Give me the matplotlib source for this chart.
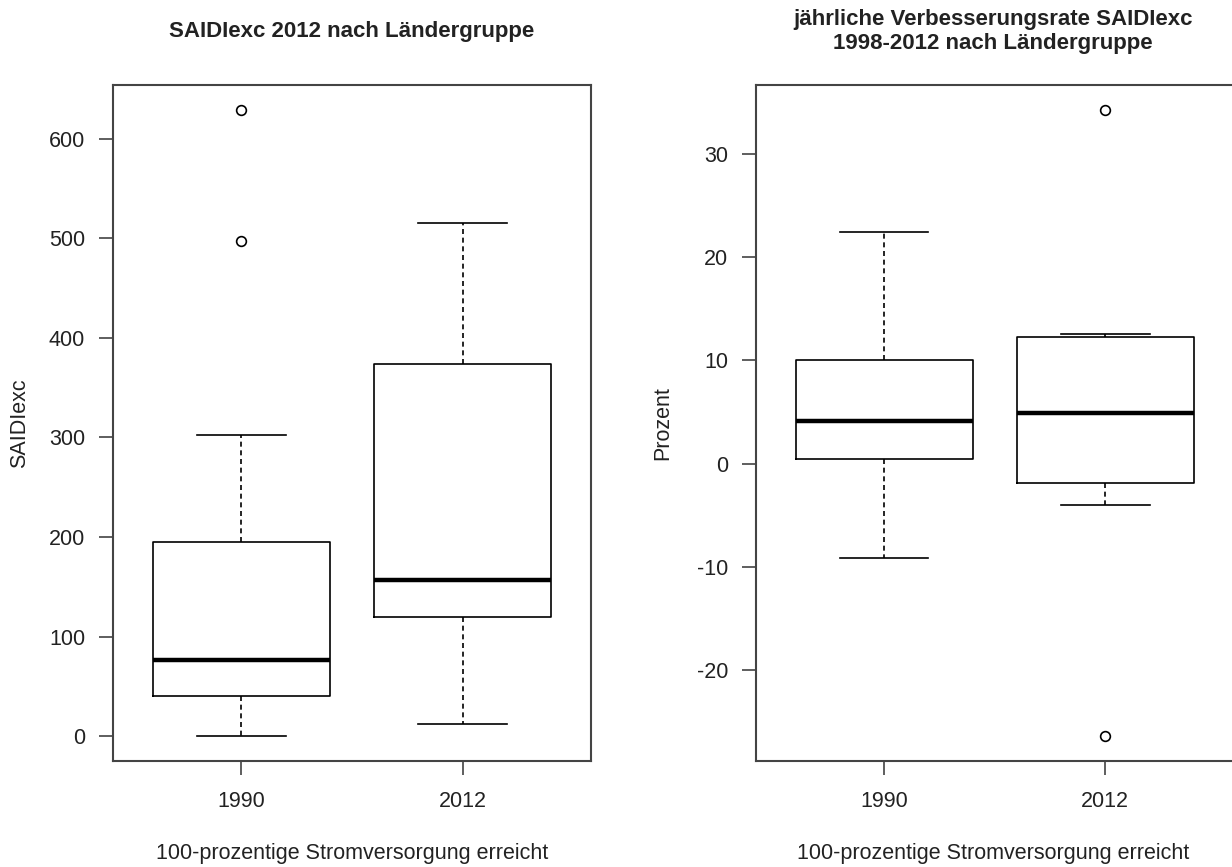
import matplotlib.pyplot as plt

plt.rcParams['font.family'] = ['Liberation Sans', 'DejaVu Sans']
plt.rcParams['axes.unicode_minus'] = False

# ============================================
# DATA
# ============================================

groups = ["1990", "2012"]

# SAIDIexc 2012 (box statistics per group)
saidi_whislo = [0.4, 12.6]
saidi_q1 = [40, 120]
saidi_med = [76, 157]
saidi_q3 = [195, 374]
saidi_whishi = [302, 515]
saidi_fliers = [[629, 497.6], []]
saidi_ticks = [0, 100, 200, 300, 400, 500, 600]

# yearly improvement rate SAIDIexc 1998-2012 (percent)
rate_whislo = [-9.2, -4.0]
rate_q1 = [0.4, -1.9]
rate_med = [4.1, 4.9]
rate_q3 = [10.0, 12.3]
rate_whishi = [22.5, 12.55]
rate_fliers = [[], [34.3, -26.4]]
rate_ticks = [-20, -10, 0, 10, 20, 30]


def draw_box(ax, lo, q1, med, q3, hi, fliers, yticks):
    stats = []
    for i, g in enumerate(groups):
        stats.append(dict(whislo=lo[i], q1=q1[i], med=med[i], q3=q3[i],
                          whishi=hi[i], fliers=fliers[i], label=g))
    ax.bxp(stats, positions=[1, 2], widths=0.8, capwidths=0.4,
           boxprops=dict(color='black', linewidth=1.2),
           whiskerprops=dict(color='black', linewidth=1.2, linestyle=(0, (3, 2.2))),
           capprops=dict(color='black', linewidth=1.2),
           medianprops=dict(color='black', linewidth=3.2, solid_capstyle='butt'),
           flierprops=dict(marker='o', markerfacecolor='none', markeredgecolor='black',
                           markersize=7, markeredgewidth=1.2))

    # R-style range: 4% padding around the data
    vals = lo + hi + [v for f in fliers for v in f]
    vmin, vmax = min(vals), max(vals)
    pad = 0.04 * (vmax - vmin)
    ax.set_ylim(vmin - pad, vmax + pad)
    ax.set_xlim(0.42, 2.58)

    ax.set_yticks(yticks)
    ax.set_xticks([1, 2])
    ax.set_xticklabels(groups)
    ax.tick_params(axis='both', direction='out', length=10, width=1.1,
                   color='#333333', labelsize=15.5, labelcolor='#222222')
    ax.tick_params(axis='y', pad=10)
    ax.tick_params(axis='x', pad=12)
    for s in ax.spines.values():
        s.set_color('#444444')
        s.set_linewidth(1.5)


W, H = 1232, 867
fig = plt.figure(figsize=(W / 100, H / 100), dpi=100)

ax1 = fig.add_axes([113 / W, (H - 760.7) / H, 478 / W, 675.7 / H])
ax2 = fig.add_axes([755.7 / W, (H - 760.7) / H, 478 / W, 675.7 / H])

draw_box(ax1, saidi_whislo, saidi_q1, saidi_med, saidi_q3, saidi_whishi, saidi_fliers, saidi_ticks)
draw_box(ax2, rate_whislo, rate_q1, rate_med, rate_q3, rate_whishi, rate_fliers, rate_ticks)

# titles
fig.text(352 / W, 1 - 32 / H, "SAIDIexc 2012 nach Ländergruppe",
         ha='center', va='center', fontsize=16, fontweight='bold', color='#222222')
fig.text(993 / W, 1 - 19 / H, "jährliche Verbesserungsrate SAIDIexc",
         ha='center', va='center', fontsize=16, fontweight='bold', color='#222222')
fig.text(993 / W, 1 - 43 / H, "1998-2012 nach Ländergruppe",
         ha='center', va='center', fontsize=16, fontweight='bold', color='#222222')

# axis labels
fig.text(352 / W, 1 - 853 / H, "100-prozentige Stromversorgung erreicht",
         ha='center', va='center', fontsize=15.5, color='#222222')
fig.text(993 / W, 1 - 853 / H, "100-prozentige Stromversorgung erreicht",
         ha='center', va='center', fontsize=15.5, color='#222222')
fig.text(20 / W, 1 - 423 / H, "SAIDIexc", rotation=90,
         ha='center', va='center', fontsize=15.5, color='#222222')
fig.text(663 / W, 1 - 423 / H, "Prozent", rotation=90,
         ha='center', va='center', fontsize=15.5, color='#222222')

fig.savefig("out.png", dpi=100)
